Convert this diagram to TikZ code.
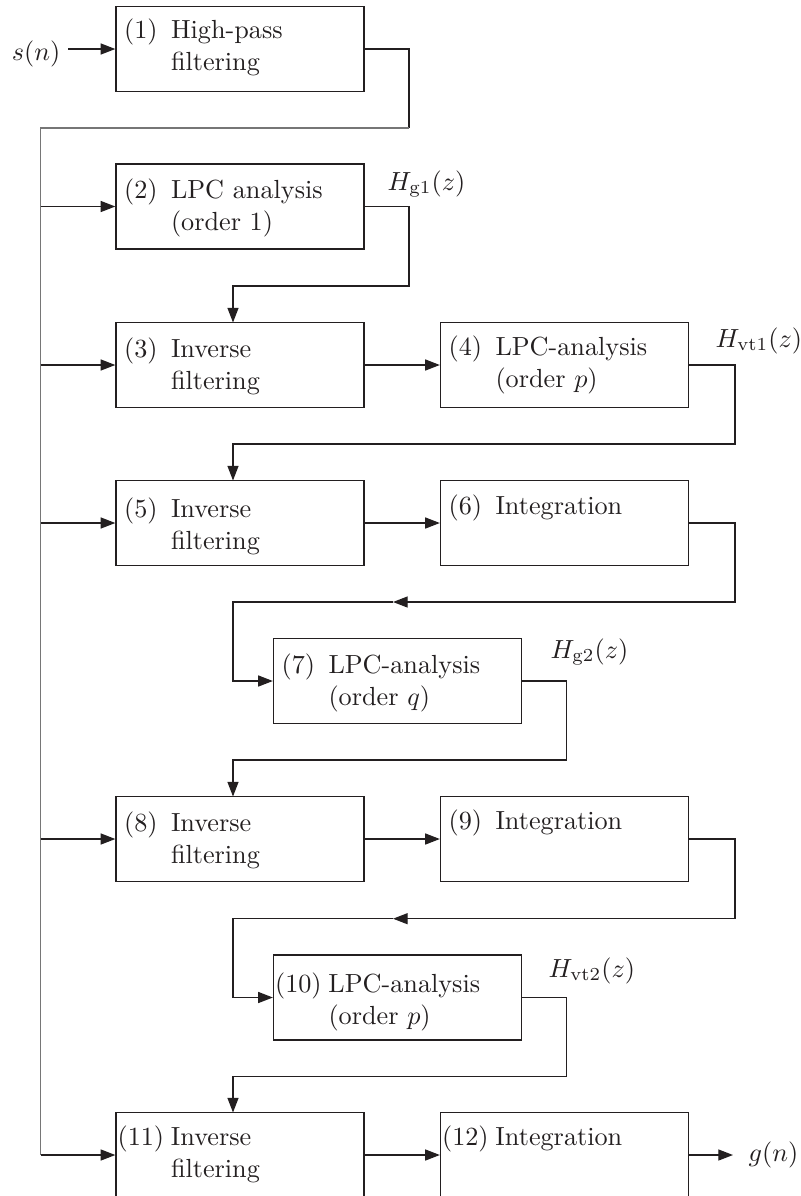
\RequirePackage{fix-cm}
\documentclass[tikz,border=0pt]{standalone}
\usetikzlibrary{arrows.meta,calc}
\definecolor{ink}{HTML}{231F20}
\definecolor{busgray}{HTML}{767676}
% number column plus a hanging-indented description
\newcommand\blocktext[2]{\makebox[19pt][c]{#1}\hspace{2pt}\parbox[t]{70pt}{#2}}
\begin{document}
\begin{tikzpicture}[x=0.3817pt,y=-0.3817pt,line width=0.5pt,
  every node/.style={font=\fontsize{10}{12.2}\selectfont,inner sep=0pt,text=ink},
  blk/.style={draw=ink,minimum width=94.66pt,minimum height=32.44pt},
  wire/.style={draw=ink},
  bus/.style={draw=busgray},
  flow/.style={draw=ink,-{Triangle[length=5.6pt,width=4.2pt]}},
  btext/.style={anchor=base west}]
\useasboundingbox (0,0) rectangle (801,1196);

% blocks
\node[blk] (b1)  at (240,49)    {};
\node[blk] (b2)  at (240,206.5) {};
\node[blk] (b3)  at (240,365)   {};
\node[blk] (b4)  at (564.5,365) {};
\node[blk] (b5)  at (240,523)   {};
\node[blk] (b6)  at (564.5,523) {};
\node[blk] (b7)  at (397.5,681) {};
\node[blk] (b8)  at (240,839)   {};
\node[blk] (b9)  at (564.5,839) {};
\node[blk] (b10) at (397.5,997.5) {};
\node[blk] (b11) at (240,1155)  {};
\node[blk] (b12) at (564.5,1155) {};

% block texts
\node[btext] (t1)  at ($(b1.north west)+(0,33)$)  {\blocktext{(1)}{High-pass\\filtering}};
\node[btext] (t2)  at ($(b2.north west)+(0,35)$)  {\blocktext{(2)}{LPC analysis\\(order 1)}};
\node[btext] (t3)  at ($(b3.north west)+(0,36)$)  {\blocktext{(3)}{Inverse\\filtering}};
\node[btext] (t4)  at ($(b4.north west)+(0,34)$)  {\blocktext{(4)}{LPC-analysis\\(order $p$)}};
\node[btext] (t5)  at ($(b5.north west)+(0,38)$)  {\blocktext{(5)}{Inverse\\filtering}};
\node[btext] (t6)  at ($(b6.north west)+(0,35)$)  {\blocktext{(6)}{Integration}};
\node[btext] (t7)  at ($(b7.north west)+(0,36)$)  {\blocktext{(7)}{LPC-analysis\\(order $q$)}};
\node[btext] (t8)  at ($(b8.north west)+(0,36)$)  {\blocktext{(8)}{Inverse\\filtering}};
\node[btext] (t9)  at ($(b9.north west)+(0,34)$)  {\blocktext{(9)}{Integration}};
\node[btext] (t10) at ($(b10.north west)+(0,38)$) {\blocktext{(10)}{LPC-analysis\\(order $p$)}};
\node[btext] (t11) at ($(b11.north west)+(0,34)$) {\blocktext{(11)}{Inverse\\filtering}};
\node[btext] (t12) at ($(b12.north west)+(0,34)$) {\blocktext{(12)}{Integration}};

% signal and transfer-function labels
\node[anchor=base] (sn) at (36,60) {$s(n)$};
\node[anchor=base west] (gn) at (748,1161) {$g(n)$};
\node[anchor=base west] (hg1)  at (387,190) {$H_{\mathrm{g1}}(z)$};
\node[anchor=base west] (hvt1) at (715,347) {$H_{\mathrm{vt1}}(z)$};
\node[anchor=base west] (hg2)  at (550,658) {$H_{\mathrm{g2}}(z)$};
\node[anchor=base west] (hvt2) at (548,977) {$H_{\mathrm{vt2}}(z)$};

% routing points
\coordinate (in)  at (68,49);
\coordinate (k1)  at (409,128);
\coordinate (bt)  at (40.7,128);
\coordinate (tap2)  at (bt |- b2.west);
\coordinate (tap3)  at (bt |- b3.west);
\coordinate (tap5)  at (bt |- b5.west);
\coordinate (tap8)  at (bt |- b8.west);
\coordinate (tap11) at (bt |- b11.west);
\coordinate (r2)  at (409,286);
\coordinate (n3)  at (233,322.5);
\coordinate (r4)  at (735,444);
\coordinate (n5)  at (233,480.5);
\coordinate (r6)  at (735,602);
\coordinate (m6)  at (393,602);
\coordinate (c7)  at (233,602);
\coordinate (r7)  at (566.7,760);
\coordinate (n8)  at (233,796.5);
\coordinate (r9)  at (735,918.7);
\coordinate (m9)  at (393,918.7);
\coordinate (c10) at (233,918.7);
\coordinate (r10) at (566.7,1076.7);
\coordinate (n11) at (233,1112.5);
\coordinate (out) at (733,1155);

% input and distribution bus
\draw[flow] (in) -- (b1.west);
\draw[wire] (b1.east) -| (k1);
\draw[bus] (k1) -- (bt) -- (tap11);
\draw[flow] (tap2) -- (b2.west);
\draw[flow] (tap3) -- (b3.west);
\draw[flow] (tap5) -- (b5.west);
\draw[flow] (tap8) -- (b8.west);
\draw[flow] (tap11) -- (b11.west);

% processing chain
\draw[flow] (b2.east) -| (r2) -| (n3);
\draw[flow] (b3.east) -- (b4.west);
\draw[flow] (b4.east) -| (r4) -| (n5);
\draw[flow] (b5.east) -- (b6.west);
\draw[flow] (b6.east) -| (r6) -- (m6);
\draw[flow] (m6) -- (c7) |- (b7.west);
\draw[flow] (b7.east) -| (r7) -| (n8);
\draw[flow] (b8.east) -- (b9.west);
\draw[flow] (b9.east) -| (r9) -- (m9);
\draw[flow] (m9) -- (c10) |- (b10.west);
\draw[flow] (b10.east) -| (r10) -| (n11);
\draw[flow] (b11.east) -- (b12.west);
\draw[flow] (b12.east) -- (out);
\end{tikzpicture}
\end{document}
